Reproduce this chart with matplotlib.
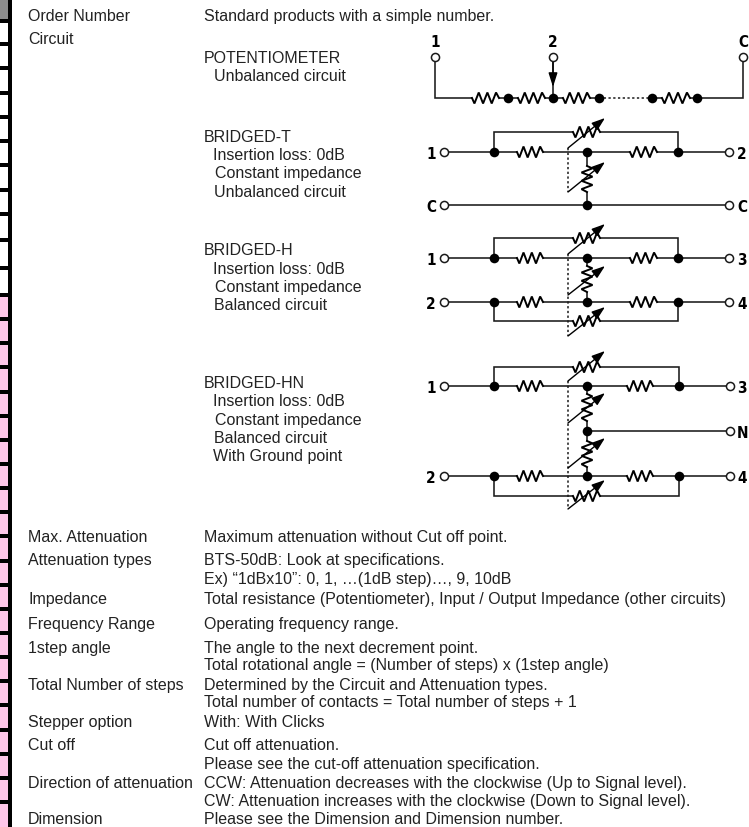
import matplotlib
matplotlib.use("Agg")
import matplotlib.pyplot as plt
import numpy as np

W, H = 749, 828
TEXT = "#222222"
LINE = "#1a1a1a"
FS = 11.55

# ---- left strip ----
tick_rows = [22, 45, 69, 94, 118, 142, 166, 191, 215, 241, 269, 296, 320, 344, 368, 393,
             417, 441, 465, 489, 513, 537, 562, 586, 610, 634, 658, 682, 706, 731, 755, 779, 803]
pink_start = 296

# ---- text rows: (y centre, text) ----
row_labels = [(15, "Order Number"), (38, "Circuit"), (536, "Max. Attenuation"),
              (559, "Attenuation types"), (598, "Impedance"), (623, "Frequency Range"),
              (647, "1step angle"), (684, "Total Number of steps"), (721, "Stepper option"),
              (744, "Cut off"), (782, "Direction of attenuation"), (818, "Dimension")]
row_text = [(15, "Standard products with a simple number."),
            (536, "Maximum attenuation without Cut off point."),
            (559, "BTS-50dB: Look at specifications."),
            (578, "Ex) \u201c1dBx10\u201d: 0, 1, \u2026(1dB step)\u2026, 9, 10dB"),
            (598, "Total resistance (Potentiometer), Input / Output Impedance (other circuits)"),
            (623, "Operating frequency range."),
            (647, "The angle to the next decrement point."),
            (664, "Total rotational angle = (Number of steps) x (1step angle)"),
            (684, "Determined by the Circuit and Attenuation types."),
            (701, "Total number of contacts = Total number of steps + 1"),
            (721, "With: With Clicks"),
            (744, "Cut off attenuation."),
            (763, "Please see the cut-off attenuation specification."),
            (782, "CCW: Attenuation decreases with the clockwise (Up to Signal level)."),
            (800, "CW: Attenuation increases with the clockwise (Down to Signal level)."),
            (818, "Please see the Dimension and Dimension number.")]
circuit_text = [(57, 204, "POTENTIOMETER"), (75, 214, "Unbalanced circuit"),
                (136, 204, "BRIDGED-T"), (154, 213, "Insertion loss: 0dB"),
                (172, 215, "Constant impedance"), (191, 214, "Unbalanced circuit"),
                (249, 204, "BRIDGED-H"), (268, 213, "Insertion loss: 0dB"),
                (286, 215, "Constant impedance"), (304, 214, "Balanced circuit"),
                (382, 204, "BRIDGED-HN"), (400, 213, "Insertion loss: 0dB"),
                (419, 215, "Constant impedance"), (437, 214, "Balanced circuit"),
                (455, 213, "With Ground point")]

# ---- schematic geometry ----
wires = [[(435, 62), (435, 99), (472, 99)], [(499, 99), (518, 99)], [(545, 99), (563, 99)],
         [(590, 99), (599, 99)], [(652, 99), (662, 99)], [(690, 99), (743, 99), (743, 62)],
         [(553, 62), (553, 99)],
         # bridged-T
         [(448, 153), (517, 153)], [(543, 153), (630, 153)], [(657, 153), (725, 153)],
         [(494, 153), (494, 133), (573, 133)], [(600, 133), (678, 133), (678, 153)],
         [(587, 153), (587, 167)], [(587, 193), (587, 206)], [(448, 206), (725, 206)],
         # bridged-H
         [(448, 259), (517, 259)], [(543, 259), (630, 259)], [(657, 259), (725, 259)],
         [(448, 303), (517, 303)], [(543, 303), (630, 303)], [(657, 303), (725, 303)],
         [(494, 259), (494, 239), (573, 239)], [(600, 239), (678, 239), (678, 259)],
         [(494, 303), (494, 322), (573, 322)], [(600, 322), (678, 322), (678, 303)],
         [(587, 259), (587, 267)], [(587, 293), (587, 303)],
         # bridged-HN
         [(448, 387), (517, 387)], [(543, 387), (627, 387)], [(653, 387), (726, 387)],
         [(448, 477), (517, 477)], [(543, 477), (627, 477)], [(653, 477), (726, 477)],
         [(494, 387), (494, 368), (573, 368)], [(600, 368), (679, 368), (679, 387)],
         [(494, 477), (494, 497), (573, 497)], [(600, 497), (679, 497), (679, 477)],
         [(587, 387), (587, 395)], [(587, 422), (587, 442)], [(587, 468), (587, 477)],
         [(587, 432), (726, 432)]]
h_resistors = [(472, 499, 99), (518, 545, 99), (563, 590, 99), (662, 690, 99),
               (517, 543, 153), (630, 657, 153), (573, 600, 133),
               (517, 543, 259), (630, 657, 259), (573, 600, 239),
               (517, 543, 303), (630, 657, 303), (573, 600, 322),
               (517, 543, 387), (627, 653, 387), (573, 600, 368),
               (517, 543, 477), (627, 653, 477), (573, 600, 497)]
v_resistors = [(587, 167, 193), (587, 267, 293), (587, 395, 422), (587, 442, 468)]
nodes = [(507.5, 99), (553, 99), (599, 99), (652, 99), (697, 99),
         (494, 153), (587, 153), (678, 153), (587, 206),
         (494, 259), (587, 259), (678, 259), (494, 303), (587, 303), (678, 303),
         (494, 387), (587, 387), (679, 387), (587, 432), (494, 477), (587, 477), (679, 477)]
terminals = [(435, 58), (553, 58), (743, 58), (444, 153), (444, 206), (729, 153), (729, 206),
             (444, 259), (444, 303), (729, 259), (729, 303),
             (444, 387), (444, 477), (730, 387), (730, 432), (730, 477)]
var_arrows = [(149, 119), (193, 163), (255, 225), (296, 267), (337, 308),
              (382, 352), (424, 394), (469, 439), (510, 481)]
dotted_links = [((599, 99), (652, 99)), ((568, 149), (568, 193)), ((568, 255), (568, 337)),
                ((568, 382), (568, 510))]
pin_labels = [(435, 41, "1"), (553, 41, "2"), (743, 41, "C"), (431, 153, "1"), (431, 206, "C"),
              (742, 153, "2"), (742, 206, "C"), (431, 259, "1"), (431, 303, "2"),
              (742, 259, "3"), (742, 303, "4"), (431, 387, "1"), (431, 477, "2"),
              (742, 387, "3"), (742, 432, "N"), (742, 477, "4")]

fig = plt.figure(figsize=(W / 100, H / 100), dpi=100)
ax = fig.add_axes([0, 0, 1, 1])
ax.set_xlim(0, W)
ax.set_ylim(H, 0)
ax.axis("off")
font = ["Liberation Sans", "DejaVu Sans"]

# left strip
ax.fill_between([0, 8], 0, 20, color="#8c8c8c", lw=0)
ax.fill_between([0, 8], pink_start, H, color="#fec6e8", lw=0)
ax.fill_between([8, 12], 0, H, color="black", lw=0)
for y in tick_rows:
    ax.fill_between([0, 8], y - 2, y + 2, color="black", lw=0)

# text
for y, s in row_labels:
    ax.text(28, y + 5.6, s, fontsize=FS, color=TEXT, family=font, va="baseline", ha="left")
for y, s in row_text:
    ax.text(204, y + 5.6, s, fontsize=FS, color=TEXT, family=font, va="baseline", ha="left")
for y, x, s in circuit_text:
    ax.text(x, y + 5.6, s, fontsize=FS, color=TEXT, family=font, va="baseline", ha="left")

# schematic
lw = 1.15
for path in wires:
    xs, ys = zip(*path)
    ax.plot(xs, ys, color=LINE, lw=lw, solid_joinstyle="miter", solid_capstyle="butt", zorder=2)
zig = np.array([0, 0.09, 0.25, 0.41, 0.57, 0.73, 0.89, 1.0])
amp = np.array([0, 1, -1, 1, -1, 1, -1, 0])
for x0, x1, y in h_resistors:
    ax.plot(x0 + zig * (x1 - x0), y + amp * 5.5, color="black", lw=1.4, zorder=3,
            solid_joinstyle="miter")
for x, y0, y1 in v_resistors:
    ax.plot(x + amp * 5.5, y0 + zig * (y1 - y0), color="black", lw=1.4, zorder=3,
            solid_joinstyle="miter")
for a, b in dotted_links:
    ax.plot([a[0], b[0]], [a[1], b[1]], color=LINE, lw=1.1, dashes=(1.5, 1.6), zorder=2)
for y0, y1 in var_arrows:
    ax.annotate("", xy=(605, y1), xytext=(568, y0),
                arrowprops=dict(arrowstyle="-|>,head_length=0.8,head_width=0.28", color="black",
                                lw=1.0, shrinkA=0, shrinkB=0, mutation_scale=10), zorder=4)
ax.annotate("", xy=(553, 88), xytext=(553, 62),
            arrowprops=dict(arrowstyle="-|>,head_length=0.85,head_width=0.27", color="black",
                            lw=1.0, shrinkA=0, shrinkB=0, mutation_scale=10), zorder=4)
nx, ny = zip(*nodes)
ax.scatter(nx, ny, s=48, c="black", linewidths=0, zorder=5)
tx, ty = zip(*terminals)
ax.scatter(tx, ty, s=34, facecolors="white", edgecolors="#1a1a1a", linewidths=1.1, zorder=5)
for x, y, s in pin_labels:
    ax.text(x, y + 6, s, fontsize=11, fontweight="bold", fontstretch="condensed", color="black",
            ha="center", va="baseline", family="DejaVu Sans")

fig.savefig("out.png", dpi=100, facecolor="white")
